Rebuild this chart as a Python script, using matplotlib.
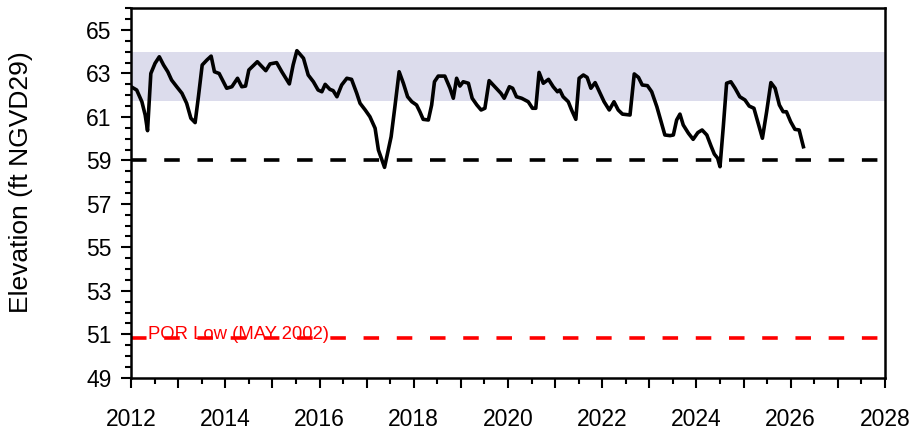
import numpy as np
import matplotlib.pyplot as plt
from matplotlib.ticker import MultipleLocator, FixedLocator

plt.rcParams['font.family'] = ['Liberation Sans', 'DejaVu Sans']

# lake stage record, decimal year vs elevation (ft NGVD29)
years = [2012.00, 2012.12, 2012.23, 2012.30, 2012.35, 2012.42, 2012.51, 2012.60, 2012.69,
         2012.78, 2012.86, 2012.97, 2013.08, 2013.18, 2013.27, 2013.36, 2013.43, 2013.51,
         2013.61, 2013.70, 2013.77, 2013.87, 2013.96, 2014.03, 2014.14, 2014.26, 2014.35,
         2014.43, 2014.50, 2014.68, 2014.86, 2014.95, 2015.09, 2015.20, 2015.36, 2015.44,
         2015.52, 2015.66, 2015.76, 2015.87, 2015.97, 2016.05, 2016.12, 2016.22, 2016.29,
         2016.37, 2016.47, 2016.58, 2016.68, 2016.79, 2016.86, 2016.97, 2017.07, 2017.18,
         2017.25, 2017.38, 2017.52, 2017.60, 2017.69, 2017.78, 2017.87, 2017.96, 2018.06,
         2018.13, 2018.20, 2018.31, 2018.38, 2018.44, 2018.52, 2018.66, 2018.77, 2018.84,
         2018.91, 2018.98, 2019.05, 2019.16, 2019.24, 2019.34, 2019.43, 2019.51, 2019.60,
         2019.72, 2019.85, 2019.92, 2020.03, 2020.10, 2020.18, 2020.29, 2020.43, 2020.52,
         2020.59, 2020.66, 2020.75, 2020.86, 2020.96, 2021.05, 2021.10, 2021.17, 2021.28,
         2021.35, 2021.44, 2021.51, 2021.60, 2021.68, 2021.76, 2021.85, 2021.94, 2022.04,
         2022.15, 2022.25, 2022.34, 2022.43, 2022.59, 2022.68, 2022.77, 2022.85, 2022.96,
         2023.05, 2023.16, 2023.25, 2023.33, 2023.44, 2023.51, 2023.58, 2023.65, 2023.72,
         2023.83, 2023.93, 2024.03, 2024.12, 2024.22, 2024.31, 2024.38, 2024.45, 2024.50,
         2024.57, 2024.64, 2024.73, 2024.82, 2024.92, 2025.03, 2025.12, 2025.22, 2025.31,
         2025.40, 2025.49, 2025.58, 2025.67, 2025.76, 2025.84, 2025.91, 2026.00, 2026.09,
         2026.18, 2026.27]
stage = [62.39, 62.24, 61.70, 61.09, 60.37, 63.00, 63.47, 63.77, 63.39,
         63.08, 62.70, 62.39, 62.09, 61.63, 60.94, 60.74, 61.93, 63.39,
         63.62, 63.80, 63.08, 63.00, 62.62, 62.32, 62.39, 62.78, 62.39,
         62.42, 63.16, 63.54, 63.13, 63.44, 63.50, 63.08, 62.52, 63.39,
         64.05, 63.70, 62.93, 62.62, 62.24, 62.16, 62.50, 62.27, 62.21,
         61.93, 62.47, 62.78, 62.73, 62.09, 61.63, 61.32, 61.01, 60.48,
         59.48, 58.68, 60.09, 61.47, 63.08, 62.55, 61.93, 61.70, 61.55,
         61.24, 60.89, 60.86, 61.55, 62.62, 62.88, 62.88, 62.32, 61.86,
         62.78, 62.42, 62.62, 62.55, 61.86, 61.55, 61.32, 61.40, 62.67,
         62.39, 62.09, 61.86, 62.39, 62.32, 61.93, 61.86, 61.70, 61.40,
         61.40, 63.05, 62.55, 62.73, 62.39, 62.16, 62.24, 61.93, 61.70,
         61.32, 60.89, 62.78, 62.93, 62.82, 62.32, 62.58, 62.16, 61.70,
         61.32, 61.70, 61.32, 61.13, 61.09, 62.98, 62.82, 62.47, 62.44,
         62.16, 61.47, 60.78, 60.17, 60.14, 60.17, 60.86, 61.13, 60.63,
         60.25, 59.97, 60.28, 60.40, 60.17, 59.66, 59.29, 59.10, 58.71,
         60.55, 62.55, 62.62, 62.32, 61.93, 61.78, 61.50, 61.40, 60.71,
         60.02, 61.24, 62.58, 62.32, 61.55, 61.24, 61.24, 60.78, 60.43,
         60.40, 59.63]

band_low, band_high = 61.75, 64.0   # regulation band
low_line = 59.0
por_low = 50.85
por_label = 'POR Low (MAY 2002)'

xticks = list(range(2012, 2029))
xlabels = [str(y) if y % 2 == 0 else '' for y in xticks]
yticks = list(range(49, 66, 2))

fig = plt.figure(figsize=(9.17, 4.41), dpi=100)
ax = fig.add_axes([0.1429, 0.1435, 0.8221, 0.8377])

ax.axhspan(band_low, band_high, color='#dcdcec', lw=0, zorder=0)
ax.axhline(low_line, color='black', lw=2.6, ls=(0, (4.3, 4.9)), zorder=2)
ax.axhline(por_low, color='#ff0000', lw=2.6, ls=(0, (4.3, 4.9)), zorder=2)
ax.plot(years, stage, color='black', lw=2.6, solid_joinstyle='round', zorder=3)
ax.text(2012.36, por_low - 0.05, por_label, color='#ff0000', fontsize=13.3,
        va='baseline', ha='left')

ax.set_xlim(2012, 2028)
ax.set_ylim(49, 66)
ax.xaxis.set_major_locator(FixedLocator(xticks))
ax.set_xticklabels(xlabels)
ax.xaxis.set_minor_locator(MultipleLocator(0.5))
ax.yaxis.set_major_locator(FixedLocator(yticks))
ax.yaxis.set_minor_locator(MultipleLocator(0.5))

ax.tick_params(which='major', direction='out', length=7, width=1.5, labelsize=16.5)
ax.tick_params(which='minor', direction='out', length=4, width=1.5)
ax.tick_params(axis='x', which='major', pad=15)
ax.tick_params(axis='y', which='major', pad=7)
for s in ax.spines.values():
    s.set_linewidth(1.8)

ax.set_ylabel('Elevation (ft NGVD29)', fontsize=19)
ax.yaxis.set_label_coords(-0.13, 0.53)

fig.savefig('out.png', dpi=100)
